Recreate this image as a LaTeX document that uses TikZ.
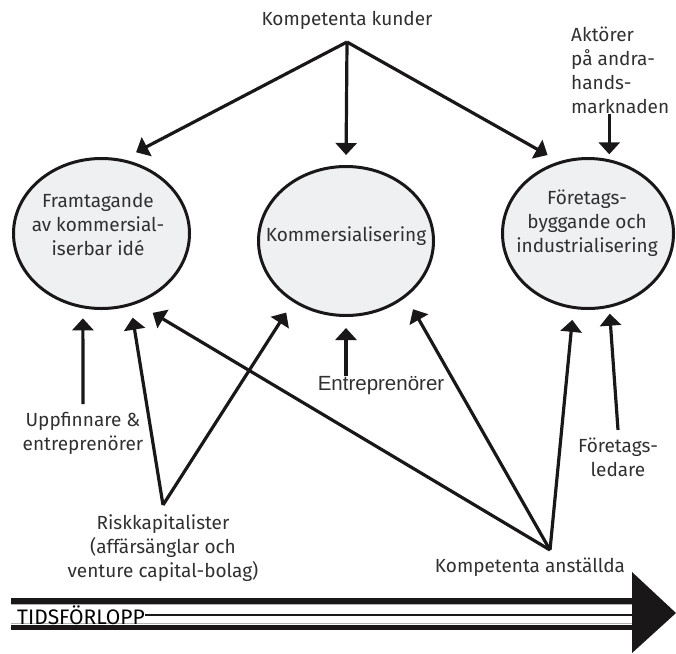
\documentclass[tikz,border=0pt]{standalone}
\usepackage{fontspec}
\setmainfont{Fira Sans}
\newfontfamily\arialfont{Liberation Sans}
\newfontfamily\regfont{Fira Sans}
\usetikzlibrary{arrows.meta,shapes.geometric,calc}
\definecolor{ellfill}{RGB}{239,240,242}
\definecolor{txtcol}{RGB}{48,48,48}
\definecolor{linecol}{RGB}{26,23,24}
\begin{document}
\begin{tikzpicture}[x=1pt,y=-1pt,
  ell/.style={ellipse, draw=linecol, line width=3pt, fill=ellfill, inner sep=0pt},
  lbl/.style={text=txtcol, font=\fontsize{19}{24}\selectfont, align=center, inner sep=0pt},
  arr/.style={draw=linecol, line width=3.2pt, -{Triangle[length=12pt,width=21pt]}}]
\useasboundingbox (0,0) rectangle (676,653);

% ellipses
\node[ell, minimum width=176pt, minimum height=150pt] (left) at (101.5,233.5) {};
\node[ell, minimum width=175pt, minimum height=149pt] (mid) at (346,241) {};
\node[ell, minimum width=171pt, minimum height=150pt] (right) at (588,233.5) {};

\node[lbl] (lefttxt) at (98,224) {Framtagande\\av kommersial-\\iserbar idé};
\node[lbl] (midtxt) at (346,236) {Kommersialisering};
\node[lbl] (righttxt) at (587,223) {Företags-\\byggande och\\industrialisering};

% labels
\node[lbl] (kunder) at (347,20) {Kompetenta kunder};
\coordinate (kapex) at (347,42);
\node[lbl, align=left, anchor=west] (akt) at (571,70) {Aktörer\\på andra-\\hands-\\marknaden};
\node[lbl] (uppf) at (83,433.5) {Uppfinnare \&\\entreprenörer};
\node[lbl] (risk) at (163,548) {Riskkapitalister\\(affärsänglar och\\venture capital-bolag)};
\coordinate (rapex) at (163,505);
\node[lbl] (anst) at (530,567) {Kompetenta anställda};
\coordinate (aapex) at (550,550);
\node[lbl] (fl) at (618,457.5) {Företags-\\ledare};
\node[text=txtcol, font=\arialfont\fontsize{20.5}{24}\selectfont, inner sep=0pt] (entr) at (381,385.5) {Entreprenörer};

% arrows from competent customers
\draw[arr, shorten >=15pt] (kapex) -- (left.74.85);
\draw[arr, shorten >=10pt] (kapex) -- (mid.north);
\draw[arr, shorten >=13pt] (kapex) -- (right.112.2);
\draw[arr, shorten >=5pt] (akt.south -| right.74.5) -- (right.74.5);

% arrows from below
\draw[arr, shorten >=10pt] ($(uppf.north)+(0,-8)$ -| left.256.1) -- (left.256.1);
\draw[arr, shorten >=12pt] (rapex) -- (left.292.2);
\draw[arr, shorten >=12.5pt] (rapex) -- (mid.229.7);
\draw[arr, shorten >=18pt] (aapex) -- (left.297.1);
\draw[arr, shorten >=14pt] (aapex) -- (mid.317.6);
\draw[arr, shorten >=11pt] (aapex) -- (right.259.6);
\draw[arr, shorten >=6pt] ($(fl.north)+(0,-8)$ -| right.286.6) -- (right.286.6);
\draw[arr, shorten >=11pt] (entr.north -| mid.south) -- (mid.south);

% time line
\coordinate (head) at (633,613);
\fill[linecol] (11,598) rectangle (634,603.5);
\fill[linecol] (11,624.5) rectangle (634,630);
\draw[gray!60, line width=0.8pt] (11,604.4) -- (634,604.4);
\draw[gray!60, line width=0.8pt] (11,623.6) -- (634,623.6);
\node[font=\regfont\fontsize{21}{22}\selectfont, anchor=west, inner sep=0pt, text=black] (tids) at (17,615) {TIDSFÖRLOPP};
\draw[linecol, line width=1.3pt] (tids.east) -- (tids.east -| head);
\fill[linecol] (632,572) -- (676,613) -- (632,653) -- cycle;
\end{tikzpicture}
\end{document}
